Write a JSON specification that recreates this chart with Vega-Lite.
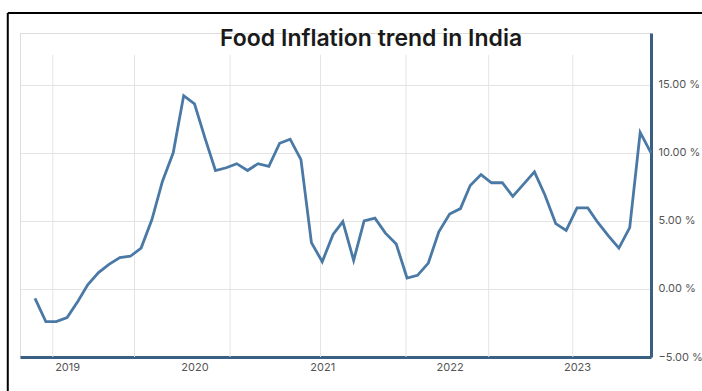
{
  "$schema": "https://vega.github.io/schema/vega-lite/v6.json",
  "width": 631,
  "height": 324,
  "autosize": {"type": "none"},
  "padding": {"left": 20, "top": 33, "right": 51, "bottom": 34},
  "background": "white",
  "datasets": {
    "food": [
      {"month": "2018-10-01", "inflation": -0.7},
      {"month": "2018-11-01", "inflation": -2.4},
      {"month": "2018-12-01", "inflation": -2.4},
      {"month": "2019-01-01", "inflation": -2.1},
      {"month": "2019-02-01", "inflation": -0.9},
      {"month": "2019-03-01", "inflation": 0.3},
      {"month": "2019-04-01", "inflation": 1.2},
      {"month": "2019-05-01", "inflation": 1.8},
      {"month": "2019-06-01", "inflation": 2.3},
      {"month": "2019-07-01", "inflation": 2.4},
      {"month": "2019-08-01", "inflation": 3.0},
      {"month": "2019-09-01", "inflation": 5.1},
      {"month": "2019-10-01", "inflation": 7.9},
      {"month": "2019-11-01", "inflation": 10.0},
      {"month": "2019-12-01", "inflation": 14.2},
      {"month": "2020-01-01", "inflation": 13.6},
      {"month": "2020-02-01", "inflation": 11.0},
      {"month": "2020-03-01", "inflation": 8.7},
      {"month": "2020-04-01", "inflation": 8.9},
      {"month": "2020-05-01", "inflation": 9.2},
      {"month": "2020-06-01", "inflation": 8.7},
      {"month": "2020-07-01", "inflation": 9.2},
      {"month": "2020-08-01", "inflation": 9.0},
      {"month": "2020-09-01", "inflation": 10.7},
      {"month": "2020-10-01", "inflation": 11.0},
      {"month": "2020-11-01", "inflation": 9.5},
      {"month": "2020-12-01", "inflation": 3.4},
      {"month": "2021-01-01", "inflation": 2.0},
      {"month": "2021-02-01", "inflation": 4.0},
      {"month": "2021-03-01", "inflation": 4.95},
      {"month": "2021-04-01", "inflation": 2.1},
      {"month": "2021-05-01", "inflation": 5.0},
      {"month": "2021-06-01", "inflation": 5.2},
      {"month": "2021-07-01", "inflation": 4.1},
      {"month": "2021-08-01", "inflation": 3.3},
      {"month": "2021-09-01", "inflation": 0.8},
      {"month": "2021-10-01", "inflation": 1.0},
      {"month": "2021-11-01", "inflation": 1.9},
      {"month": "2021-12-01", "inflation": 4.2},
      {"month": "2022-01-01", "inflation": 5.5},
      {"month": "2022-02-01", "inflation": 5.9},
      {"month": "2022-03-01", "inflation": 7.6},
      {"month": "2022-04-01", "inflation": 8.4},
      {"month": "2022-05-01", "inflation": 7.8},
      {"month": "2022-06-01", "inflation": 7.8},
      {"month": "2022-07-01", "inflation": 6.8},
      {"month": "2022-08-01", "inflation": 7.7},
      {"month": "2022-09-01", "inflation": 8.6},
      {"month": "2022-10-01", "inflation": 6.9},
      {"month": "2022-11-01", "inflation": 4.8},
      {"month": "2022-12-01", "inflation": 4.3},
      {"month": "2023-01-01", "inflation": 5.95},
      {"month": "2023-02-01", "inflation": 5.95},
      {"month": "2023-03-01", "inflation": 4.9},
      {"month": "2023-04-01", "inflation": 3.9},
      {"month": "2023-05-01", "inflation": 3.0},
      {"month": "2023-06-01", "inflation": 4.5},
      {"month": "2023-07-01", "inflation": 11.5},
      {"month": "2023-08-01", "inflation": 10.0}
    ],
    "vgrid": [
      {"month": "2018-11-21"},
      {"month": "2019-07-13"},
      {"month": "2020-04-12"},
      {"month": "2020-12-27"},
      {"month": "2021-08-29"},
      {"month": "2022-04-23"},
      {"month": "2022-12-20"}
    ]
  },
  "layer": [
    {
      "data": {"name": "vgrid"},
      "mark": {"type": "rule", "color": "#e4e4e4", "strokeWidth": 1},
      "encoding": {
        "x": {"field": "month", "type": "temporal"},
        "y": {"datum": 17.2, "type": "quantitative"},
        "y2": {"datum": -5}
      }
    },
    {
      "data": {"name": "food"},
      "mark": {"type": "line", "color": "#4a79a6", "strokeWidth": 2.8, "strokeJoin": "miter"},
      "encoding": {
        "x": {
          "field": "month",
          "type": "temporal",
          "scale": {
            "type": "utc",
            "domain": [
              {"year": 2018, "month": 8, "date": 19, "utc": true},
              {"year": 2023, "month": 8, "date": 1, "utc": true}
            ]
          },
          "axis": {
            "title": null,
            "values": [
              {"year": 2019, "month": 1, "date": 1, "utc": true},
              {"year": 2020, "month": 1, "date": 1, "utc": true},
              {"year": 2021, "month": 1, "date": 1, "utc": true},
              {"year": 2022, "month": 1, "date": 1, "utc": true},
              {"year": 2023, "month": 1, "date": 1, "utc": true}
            ],
            "format": "%Y",
            "formatType": "utc",
            "grid": false,
            "ticks": false,
            "domainColor": "#3b5f82",
            "domainWidth": 3,
            "labelPadding": 4,
            "labelFont": "Inter",
            "labelFontSize": 11,
            "labelColor": "#555555",
            "labelFlush": false
          }
        },
        "y": {
          "field": "inflation",
          "type": "quantitative",
          "scale": {"domain": [-5, 18.8], "nice": false, "zero": false},
          "axis": {
            "orient": "right",
            "title": null,
            "values": [-5, 0, 5, 10, 15],
            "labelExpr": "format(datum.value, '.2f') + ' %'",
            "grid": true,
            "gridColor": "#e4e4e4",
            "gridWidth": 1,
            "ticks": false,
            "domainColor": "#3b5f82",
            "domainWidth": 3,
            "labelPadding": 7,
            "labelFont": "Inter",
            "labelFontSize": 11,
            "labelColor": "#555555",
            "labelFlush": false
          }
        }
      }
    },
    {
      "data": {"values": [{"label": "Food Inflation trend in India"}]},
      "mark": {"type": "text", "font": "Inter", "fontSize": 23, "fontWeight": 600, "color": "#1a1a1a", "align": "center", "baseline": "alphabetic"},
      "encoding": {
        "text": {"field": "label", "type": "nominal"},
        "x": {"datum": {"year": 2021, "month": 5, "date": 21, "utc": true}, "type": "temporal"},
        "y": {"datum": 17.85, "type": "quantitative"}
      }
    },
    {
      "data": {"values": [{}]},
      "mark": {"type": "rule", "color": "#000000", "strokeWidth": 2},
      "encoding": {
        "x": {"datum": {"year": 2018, "month": 7, "date": 15, "utc": true}, "type": "temporal"},
        "x2": {"datum": {"year": 2024, "month": 3, "date": 1, "utc": true}},
        "y": {"datum": 20.27, "type": "quantitative"}
      }
    },
    {
      "data": {"values": [{}]},
      "mark": {"type": "rule", "color": "#000000", "strokeWidth": 2},
      "encoding": {
        "x": {"datum": {"year": 2018, "month": 7, "date": 15, "utc": true}, "type": "temporal"},
        "y": {"datum": 20.27, "type": "quantitative"},
        "y2": {"datum": -8.5}
      }
    }
  ]
}
